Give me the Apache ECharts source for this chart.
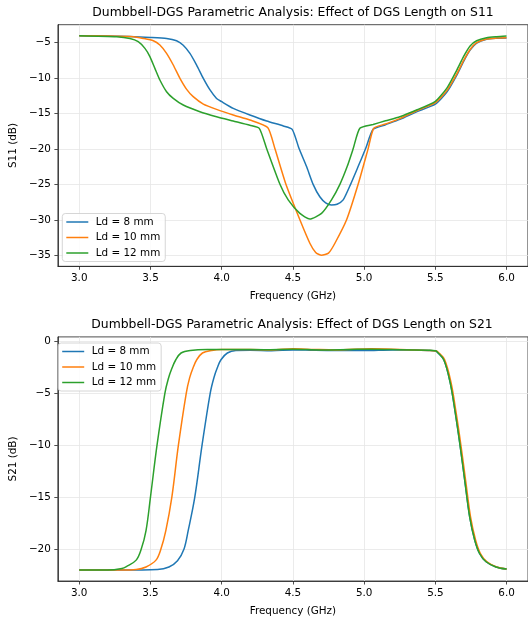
<!DOCTYPE html>
<html>
<head>
<meta charset="utf-8">
<script src="https://cdn.jsdelivr.net/npm/echarts@6/dist/echarts.min.js"></script>
<style>html,body{margin:0;padding:0;background:#fff;}#c{width:528px;height:617px;}</style>
</head>
<body>
<div id="c"></div>
<script>
// ---------- DATA ----------
const seriesNames = ['Ld = 8 mm', 'Ld = 10 mm', 'Ld = 12 mm'];
const xTicks = [3.0, 3.5, 4.0, 4.5, 5.0, 5.5, 6.0];
const s11Ticks = [-35, -30, -25, -20, -15, -10, -5];
const s21Ticks = [-20, -15, -10, -5, 0];

// S11, Ld = 8 mm
const s11Ld8F = [3.0, 3.2, 3.35, 3.5, 3.613, 3.683, 3.73, 3.777, 3.824, 3.871, 3.918, 3.964, 4.0, 4.081, 4.198, 4.316, 4.433, 4.495, 4.544, 4.596, 4.642, 4.689, 4.73, 4.771, 4.81, 4.853, 4.905, 4.958, 5.01, 5.063, 5.15, 5.251, 5.372, 5.5, 5.581, 5.651, 5.698, 5.744, 5.79, 5.86, 5.93, 6.0];
const s11Ld8V = [-4.06, -4.1, -4.18, -4.3, -4.44, -4.77, -5.4, -6.55, -8.2, -10.07, -11.7, -12.9, -13.36, -14.3, -15.23, -16.08, -16.78, -17.25, -20.0, -22.5, -25.0, -26.75, -27.6, -27.9, -27.8, -27.2, -25.0, -22.5, -20.0, -17.25, -16.6, -15.85, -14.75, -13.7, -12.0, -9.6, -7.7, -6.1, -5.1, -4.55, -4.42, -4.37];
// S11, Ld = 10 mm
const s11Ld10F = [3.0, 3.2, 3.379, 3.449, 3.52, 3.566, 3.613, 3.66, 3.707, 3.754, 3.8, 3.871, 3.964, 4.081, 4.198, 4.323, 4.374, 4.451, 4.549, 4.619, 4.66, 4.701, 4.75, 4.795, 4.877, 4.958, 5.028, 5.068, 5.15, 5.251, 5.372, 5.5, 5.581, 5.651, 5.698, 5.744, 5.79, 5.86, 5.93, 6.0];
const s11Ld10V = [-4.06, -4.1, -4.2, -4.44, -4.77, -5.38, -6.55, -8.19, -10.07, -11.62, -12.65, -13.69, -14.44, -15.23, -15.94, -17.0, -20.0, -25.0, -30.0, -33.3, -34.6, -35.0, -34.7, -33.3, -30.0, -25.0, -20.0, -17.1, -16.5, -15.75, -14.6, -13.5, -11.8, -9.44, -7.57, -6.0, -5.05, -4.53, -4.4, -4.35];
// S11, Ld = 12 mm
const s11Ld12F = [3.0, 3.262, 3.356, 3.414, 3.461, 3.496, 3.531, 3.566, 3.613, 3.66, 3.73, 3.847, 3.964, 4.081, 4.198, 4.264, 4.316, 4.409, 4.467, 4.549, 4.619, 4.701, 4.771, 4.83, 4.881, 4.923, 4.97, 5.063, 5.15, 5.251, 5.372, 5.5, 5.581, 5.651, 5.698, 5.744, 5.79, 5.86, 5.93, 6.0];
const s11Ld12V = [-4.06, -4.2, -4.44, -4.9, -5.85, -7.0, -8.66, -10.3, -11.95, -12.89, -13.83, -14.77, -15.47, -16.08, -16.69, -17.11, -20.0, -25.0, -27.2, -29.1, -29.9, -29.1, -27.2, -25.0, -22.5, -20.0, -17.1, -16.56, -16.05, -15.48, -14.5, -13.3, -11.45, -8.9, -7.0, -5.5, -4.77, -4.35, -4.2, -4.1];

// S21, Ld = 8 mm
const s21Ld8F = [3.0, 3.3, 3.55, 3.63, 3.69, 3.735, 3.765, 3.811, 3.862, 3.919, 3.945, 3.97, 3.995, 4.04, 4.1, 4.2, 4.35, 4.5, 4.65, 4.8, 5.0, 5.2, 5.35, 5.45, 5.5, 5.51, 5.559, 5.604, 5.639, 5.673, 5.707, 5.741, 5.776, 5.81, 5.856, 5.925, 6.0];
const s21Ld8V = [-22.0, -22.0, -21.95, -21.7, -21.1, -20.0, -18.2, -15.0, -10.0, -5.0, -3.5, -2.5, -1.75, -1.1, -0.86, -0.84, -0.88, -0.8, -0.84, -0.86, -0.86, -0.8, -0.82, -0.86, -0.9, -0.98, -1.75, -3.96, -6.8, -9.97, -13.45, -16.9, -19.1, -20.4, -21.2, -21.7, -21.9];
// S21, Ld = 10 mm
const s21Ld10F = [3.0, 3.3, 3.4, 3.469, 3.539, 3.573, 3.608, 3.65, 3.696, 3.751, 3.775, 3.8, 3.825, 3.865, 3.93, 4.0, 4.2, 4.35, 4.5, 4.65, 4.8, 5.05, 5.25, 5.45, 5.506, 5.516, 5.565, 5.61, 5.645, 5.679, 5.713, 5.747, 5.782, 5.816, 5.862, 5.93, 6.0];
const s21Ld10V = [-22.0, -22.0, -21.95, -21.7, -21.04, -20.0, -18.2, -15.0, -10.0, -5.0, -3.5, -2.5, -1.75, -1.1, -0.85, -0.76, -0.76, -0.8, -0.7, -0.76, -0.8, -0.7, -0.76, -0.85, -0.9, -0.98, -1.75, -3.96, -6.8, -9.97, -13.45, -16.9, -19.1, -20.4, -21.2, -21.7, -21.9];
// S21, Ld = 12 mm
const s21Ld12F = [3.0, 3.2, 3.3, 3.331, 3.4, 3.435, 3.469, 3.5, 3.546, 3.601, 3.625, 3.65, 3.678, 3.715, 3.78, 3.9, 4.1, 4.3, 4.5, 4.7, 4.9, 5.05, 5.25, 5.45, 5.5, 5.51, 5.559, 5.604, 5.639, 5.673, 5.707, 5.741, 5.776, 5.81, 5.856, 5.925, 6.0];
const s21Ld12V = [-22.0, -22.0, -21.85, -21.67, -21.04, -20.0, -18.2, -15.0, -10.0, -5.0, -3.6, -2.6, -1.75, -1.1, -0.85, -0.76, -0.76, -0.78, -0.74, -0.8, -0.76, -0.73, -0.78, -0.84, -0.88, -0.96, -1.75, -3.96, -6.8, -9.97, -13.45, -16.9, -19.1, -20.4, -21.2, -21.7, -21.9];

// ---------- CHART ----------
const colors = ['#1f77b4', '#ff7f0e', '#2ca02c'];
const FONT = 'DejaVu Sans';
const FS = 10.4;
const zip = (f, v) => f.map((x, i) => [x, v[i]]);
const minus = v => (v < 0 ? '\u2212' + Math.abs(v) : String(v));

function xAxisCfg(gridIndex, gap) {
  return {
    type: 'value', gridIndex: gridIndex, min: 2.85, max: 6.15,
    name: 'Frequency (GHz)', nameLocation: 'middle', nameGap: gap,
    nameTextStyle: { fontFamily: FONT, fontSize: FS, color: '#000' },
    axisLine: { show: true, onZero: false, lineStyle: { color: '#222', width: 0.8 } },
    axisTick: { show: true, inside: false, length: 3.5, lineStyle: { color: '#222', width: 0.8 }, customValues: xTicks },
    axisLabel: { fontFamily: FONT, fontSize: FS, color: '#000', margin: 7, customValues: xTicks, formatter: v => Number(v).toFixed(1) },
    splitLine: { show: true, lineStyle: { color: '#e6e6e6', width: 0.8 } }
  };
}
function yAxisCfg(gridIndex, min, max, ticks, name, gap) {
  return {
    type: 'value', gridIndex: gridIndex, min: min, max: max,
    name: name, nameLocation: 'middle', nameGap: gap,
    nameTextStyle: { fontFamily: FONT, fontSize: FS, color: '#000' },
    axisLine: { show: true, onZero: false, lineStyle: { color: '#222', width: 0.8 } },
    axisTick: { show: true, inside: false, length: 3.5, lineStyle: { color: '#222', width: 0.8 }, customValues: ticks },
    axisLabel: { fontFamily: FONT, fontSize: FS, color: '#000', margin: 7, customValues: ticks, formatter: v => minus(Math.round(v)) },
    splitLine: { show: true, lineStyle: { color: '#e6e6e6', width: 0.8 } }
  };
}
function legendCfg(left, top) {
  return {
    data: seriesNames.map((n, i) => ({ name: n, icon: 'rect', itemStyle: { color: colors[i] } })),
    orient: 'vertical', left: left, top: top,
    padding: [2.5, 5, 2.5, 4], itemWidth: 22, itemHeight: 1.5, itemGap: 3.5,
    backgroundColor: 'rgba(255,255,255,0.85)', borderColor: '#cccccc', borderWidth: 0.8, borderRadius: 3,
    textStyle: { fontFamily: FONT, fontSize: FS, color: '#000', lineHeight: 12, padding: [0, 0, 0, 2.5] },
    selectedMode: false
  };
}
function lineSeries(name, data, idx, axisIdx, smooth) {
  return {
    type: 'line', name: name, data: data, xAxisIndex: axisIdx, yAxisIndex: axisIdx,
    symbol: 'none', smooth: smooth,
    lineStyle: { color: colors[idx], width: 1.5 }, itemStyle: { color: colors[idx] },
    animation: false
  };
}

const chart = echarts.init(document.getElementById('c'), null, { renderer: 'canvas' });
chart.setOption({
  animation: false,
  backgroundColor: '#fff',
  title: [
    { text: 'Dumbbell-DGS Parametric Analysis: Effect of DGS Length on S11', left: 293, top: 7, textAlign: 'center', padding: 0,
      textStyle: { fontFamily: FONT, fontSize: 12.4, fontWeight: 'normal', color: '#000' } },
    { text: 'Dumbbell-DGS Parametric Analysis: Effect of DGS Length on S21', left: 292, top: 319, textAlign: 'center', padding: 0,
      textStyle: { fontFamily: FONT, fontSize: 12.4, fontWeight: 'normal', color: '#000' } }
  ],
  grid: [
    { left: 57.9, top: 24.7, width: 470, height: 241.6, show: true, borderColor: '#222', borderWidth: 0.8, containLabel: false },
    { left: 53.2, top: 336.9, width: 477.5, height: 247.7, show: true, borderColor: '#222', borderWidth: 0.8, containLabel: false }
  ],
  xAxis: [xAxisCfg(0, 25), xAxisCfg(1, 25)],
  yAxis: [
    yAxisCfg(0, -36.55, -2.51, s11Ticks, 'S11 (dB)', 28),
    yAxisCfg(1, -23.05, 0.45, s21Ticks, 'S21 (dB)', 33)
  ],
  legend: [legendCfg(62.3, 213.5), legendCfg(58.2, 343)],
  series: [
    lineSeries(seriesNames[0], zip(s11Ld8F, s11Ld8V), 0, 0, 0.2),
    lineSeries(seriesNames[1], zip(s11Ld10F, s11Ld10V), 1, 0, 0.2),
    lineSeries(seriesNames[2], zip(s11Ld12F, s11Ld12V), 2, 0, 0.2),
    lineSeries(seriesNames[0], zip(s21Ld8F, s21Ld8V), 0, 1, 0.35),
    lineSeries(seriesNames[1], zip(s21Ld10F, s21Ld10V), 1, 1, 0.35),
    lineSeries(seriesNames[2], zip(s21Ld12F, s21Ld12V), 2, 1, 0.35)
  ]
});
</script>
</body>
</html>
